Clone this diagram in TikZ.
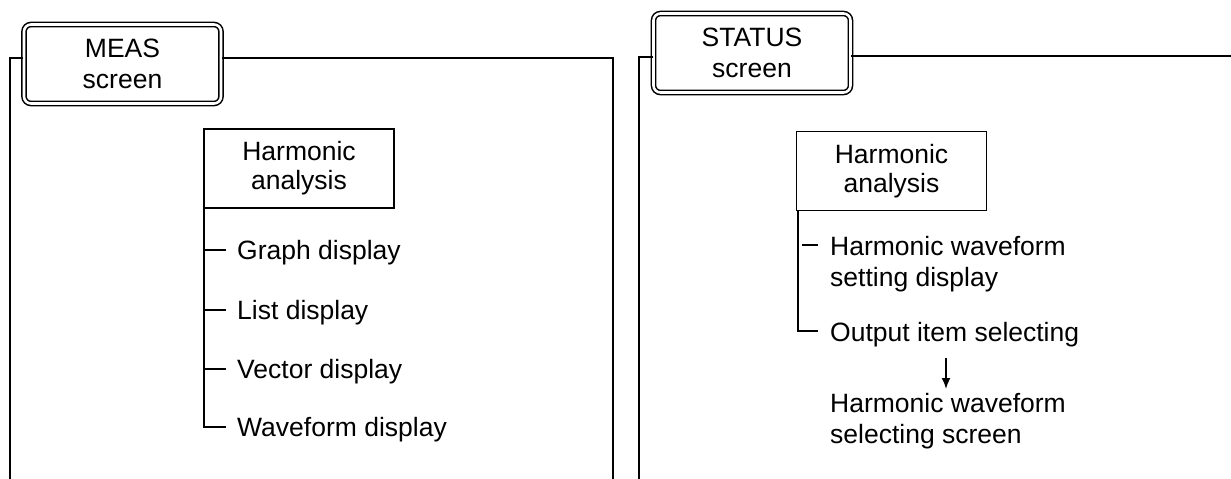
\documentclass[tikz,border=0pt]{standalone}
\usepackage{fontspec}
\setmainfont{Liberation Sans}
\usetikzlibrary{arrows.meta}
\begin{document}
\begin{tikzpicture}[x=1pt,y=-1pt,
  every node/.style={font=\fontsize{26.5}{29}\selectfont, inner sep=0pt},
  frameline/.style={line width=1.9pt},
  screenbox/.style={draw, double, line width=1.5pt, double distance=2.6pt, rounded corners=7pt,
    minimum width=197pt, minimum height=79pt, align=center, font=\fontsize{26.5}{31}\selectfont},
  harmbox/.style={draw, line width=1.3pt, minimum width=190pt, minimum height=79pt, align=center},
  treeline/.style={line width=1.8pt},
  item/.style={anchor=base west}
]
\useasboundingbox (0,0) rectangle (1231,479);
% ---------- MEAS ----------
\node[screenbox] (meas) at (122.5,64) {MEAS\\screen};
\coordinate (mbl) at (10,479);
\coordinate (mtl) at (10,58);
\coordinate (mtr) at (613,58);
\coordinate (mbr) at (613,479);
\draw[frameline] (mbl) -- (mtl) -- (mtl -| meas.west);
\draw[frameline] (mtr -| meas.east) -- (mtr) -- (mbr);

\node[harmbox] (mh) at (299,168.5) {Harmonic\\analysis};
\node[item] (g1) at (237,259) {Graph display};
\node[item] (g2) at (237,319) {List display};
\node[item] (g3) at (237,378) {Vector display};
\node[item] (g4) at (237,436) {Waveform display};
\coordinate (mt) at (204,191);
\coordinate (mb) at (204,427);
\coordinate (me) at (226,427);
\draw[treeline] (mt) -- (mb) -- (me);
\draw[treeline] (204,250) -- (226,250);
\draw[treeline] (204,310) -- (226,310);
\draw[treeline] (204,369) -- (226,369);

% ---------- STATUS ----------
\node[screenbox] (stat) at (752,53) {STATUS\\screen};
\coordinate (sbl) at (639,479);
\coordinate (stl) at (639,57);
\coordinate (str) at (1231,56);
\draw[frameline] (sbl) -- (stl) -- (stl -| stat.west);
\draw[frameline] (str -| stat.east) -- (str);

\node[harmbox] (sh) at (891.5,171) {Harmonic\\analysis};
\node[item] (h1) at (830,255) {Harmonic waveform};
\node[item] (h1b) at (830,286) {setting display};
\node[item] (o1) at (830,341) {Output item selecting};
\node[item] (s1) at (830,412) {Harmonic waveform};
\node[item] (s1b) at (830,443) {selecting screen};
\coordinate (st) at (798,210);
\coordinate (sb) at (798,331);
\coordinate (se) at (818,331);
\draw[treeline] (st) -- (sb) -- (se);
\draw[treeline] (802,245) -- (818,245);
\coordinate (a1) at (946,358);
\coordinate (a2) at (946,389);
\draw[treeline, -{Latex[length=11pt,width=9pt]}] (a1) -- (a2);
\end{tikzpicture}
\end{document}
